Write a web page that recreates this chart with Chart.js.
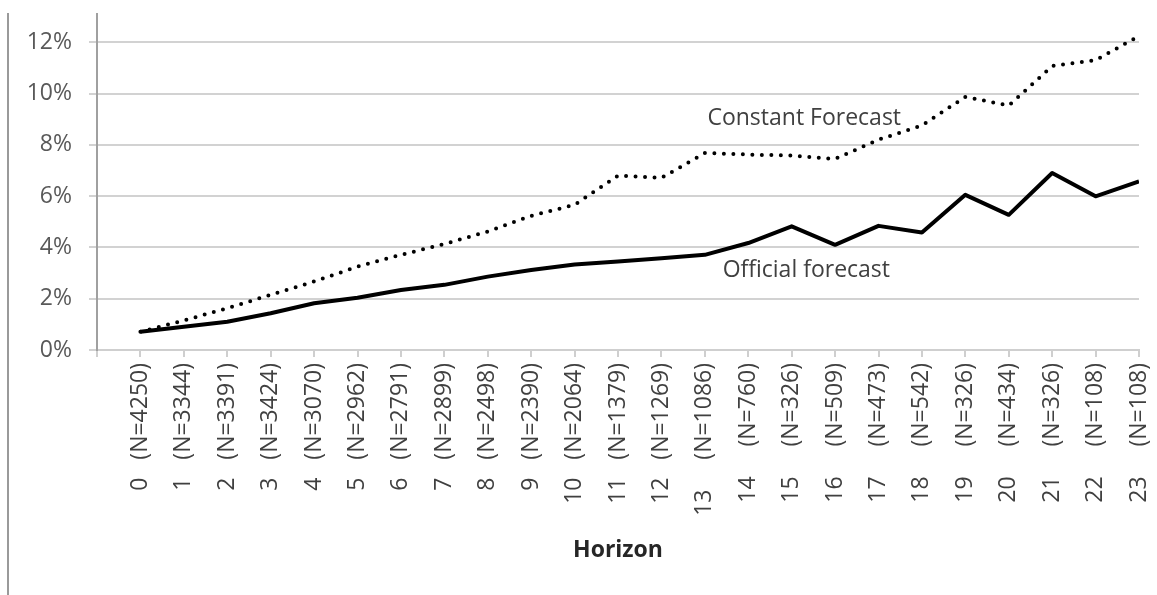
<!DOCTYPE html>
<html>
<head>
<meta charset="utf-8">
<script src="https://cdn.jsdelivr.net/npm/chart.js@4/dist/chart.umd.min.js"></script>
<style>
  html, body { margin: 0; padding: 0; background: #fff; }
  #wrap { position: relative; width: 1157px; height: 595px; }
  #frame { position: absolute; left: 7px; top: 13px; bottom: 0; border-left: 2px solid #9a9a9a; }
</style>
</head>
<body>
<div id="wrap">
  <div id="frame"></div>
  <canvas id="chart"></canvas>
</div>
<script>
// forecast horizon (months) and tick labels as printed under the axis
const horizons = [0, 1, 2, 3, 4, 5, 6, 7, 8, 9, 10, 11, 12, 13, 14, 15, 16, 17, 18, 19, 20, 21, 22, 23];
const tickLabels = [
  '0   (N=4250)', '1   (N=3344)', '2   (N=3391)', '3   (N=3424)', '4   (N=3070)', '5   (N=2962)',
  '6   (N=2791)', '7   (N=2899)', '8   (N=2498)', '9   (N=2390)', '10   (N=2064)', '11   (N=1379)',
  '12   (N=1269)', '13     (N=1086)', '14     (N=760)', '15     (N=326)', '16     (N=509)', '17     (N=473)',
  '18     (N=542)', '19     (N=326)', '20     (N=434)', '21     (N=326)', '22     (N=108)', '23     (N=108)'
];

// error in percent
const official = [0.71, 0.91, 1.10, 1.43, 1.82, 2.04, 2.34, 2.54, 2.86, 3.12, 3.33, 3.45,
                  3.58, 3.71, 4.17, 4.82, 4.10, 4.84, 4.58, 6.05, 5.27, 6.90, 5.99, 6.57];
const constant = [0.71, 1.15, 1.63, 2.15, 2.67, 3.25, 3.71, 4.13, 4.62, 5.23, 5.66, 6.80,
                  6.71, 7.68, 7.62, 7.58, 7.45, 8.20, 8.75, 9.87, 9.53, 11.07, 11.30, 12.24];

// in-chart labels, anchored in data space (horizon, percent)
const notes = [
  { text: 'Constant Forecast', x: 13.06, y: 9.02 },
  { text: 'Official forecast', x: 13.41, y: 3.12 }
];

const FONT = "'Open Sans', sans-serif";

const notesPlugin = {
  id: 'notes',
  afterDatasetsDraw(chart) {
    const ctx = chart.ctx;
    const xs = chart.scales.x, ys = chart.scales.y;
    ctx.save();
    ctx.font = '23px ' + FONT;
    ctx.fillStyle = '#404040';
    ctx.textAlign = 'left';
    ctx.textBaseline = 'middle';
    notes.forEach(n => ctx.fillText(n.text, xs.getPixelForValue(n.x), ys.getPixelForValue(n.y)));
    ctx.restore();
  }
};

const toPoints = arr => arr.map((v, i) => ({ x: horizons[i], y: v }));

new Chart(document.getElementById('chart'), {
  type: 'line',
  data: {
    datasets: [
      {
        label: 'Constant Forecast',
        data: toPoints(constant),
        borderColor: '#000',
        borderWidth: 4,
        borderDash: [0, 9.5],
        borderCapStyle: 'round',
        pointRadius: 0,
        tension: 0
      },
      {
        label: 'Official forecast',
        data: toPoints(official),
        borderColor: '#000',
        borderWidth: 4,
        borderJoinStyle: 'round',
        pointRadius: 0,
        tension: 0
      }
    ]
  },
  options: {
    responsive: true,
    maintainAspectRatio: false,
    animation: false,
    layout: { padding: { top: 14, right: 18, left: 0, bottom: 0 } },
    plugins: {
      legend: { display: false },
      tooltip: { enabled: false }
    },
    scales: {
      x: {
        type: 'linear',
        min: -1,
        max: 23,
        // fixed axis box, no extra room for the rotated end labels
        afterFit: s => { s.height = 245; s.paddingLeft = 0; s.paddingRight = 0; },
        grid: { drawOnChartArea: false, drawTicks: true, tickLength: 7, color: '#cfcfcf', lineWidth: 2 },
        border: { color: '#cfcfcf', width: 2 },
        ticks: {
          stepSize: 1,
          autoSkip: false,
          minRotation: 90,
          maxRotation: 90,
          padding: 6,
          color: '#404040',
          font: { family: FONT, size: 23 },
          callback: v => (v >= 0 ? tickLabels[v] : '')
        },
        title: {
          display: true,
          text: 'Horizon',
          color: '#262626',
          font: { family: FONT, size: 23, weight: 'bold' },
          padding: { top: 0, bottom: 31 }
        }
      },
      y: {
        min: 0,
        max: 13.1,
        afterFit: s => { s.width = 97; s.paddingTop = 0; s.paddingBottom = 0; },
        grid: { color: '#d2d2d2', lineWidth: 2, tickLength: 8 },
        border: { color: '#a0a0a0', width: 2 },
        ticks: {
          stepSize: 2,
          includeBounds: false,
          padding: 17,
          color: '#595959',
          font: { family: FONT, size: 23 },
          callback: v => v + '%'
        }
      }
    }
  },
  plugins: [notesPlugin]
});
</script>
</body>
</html>
